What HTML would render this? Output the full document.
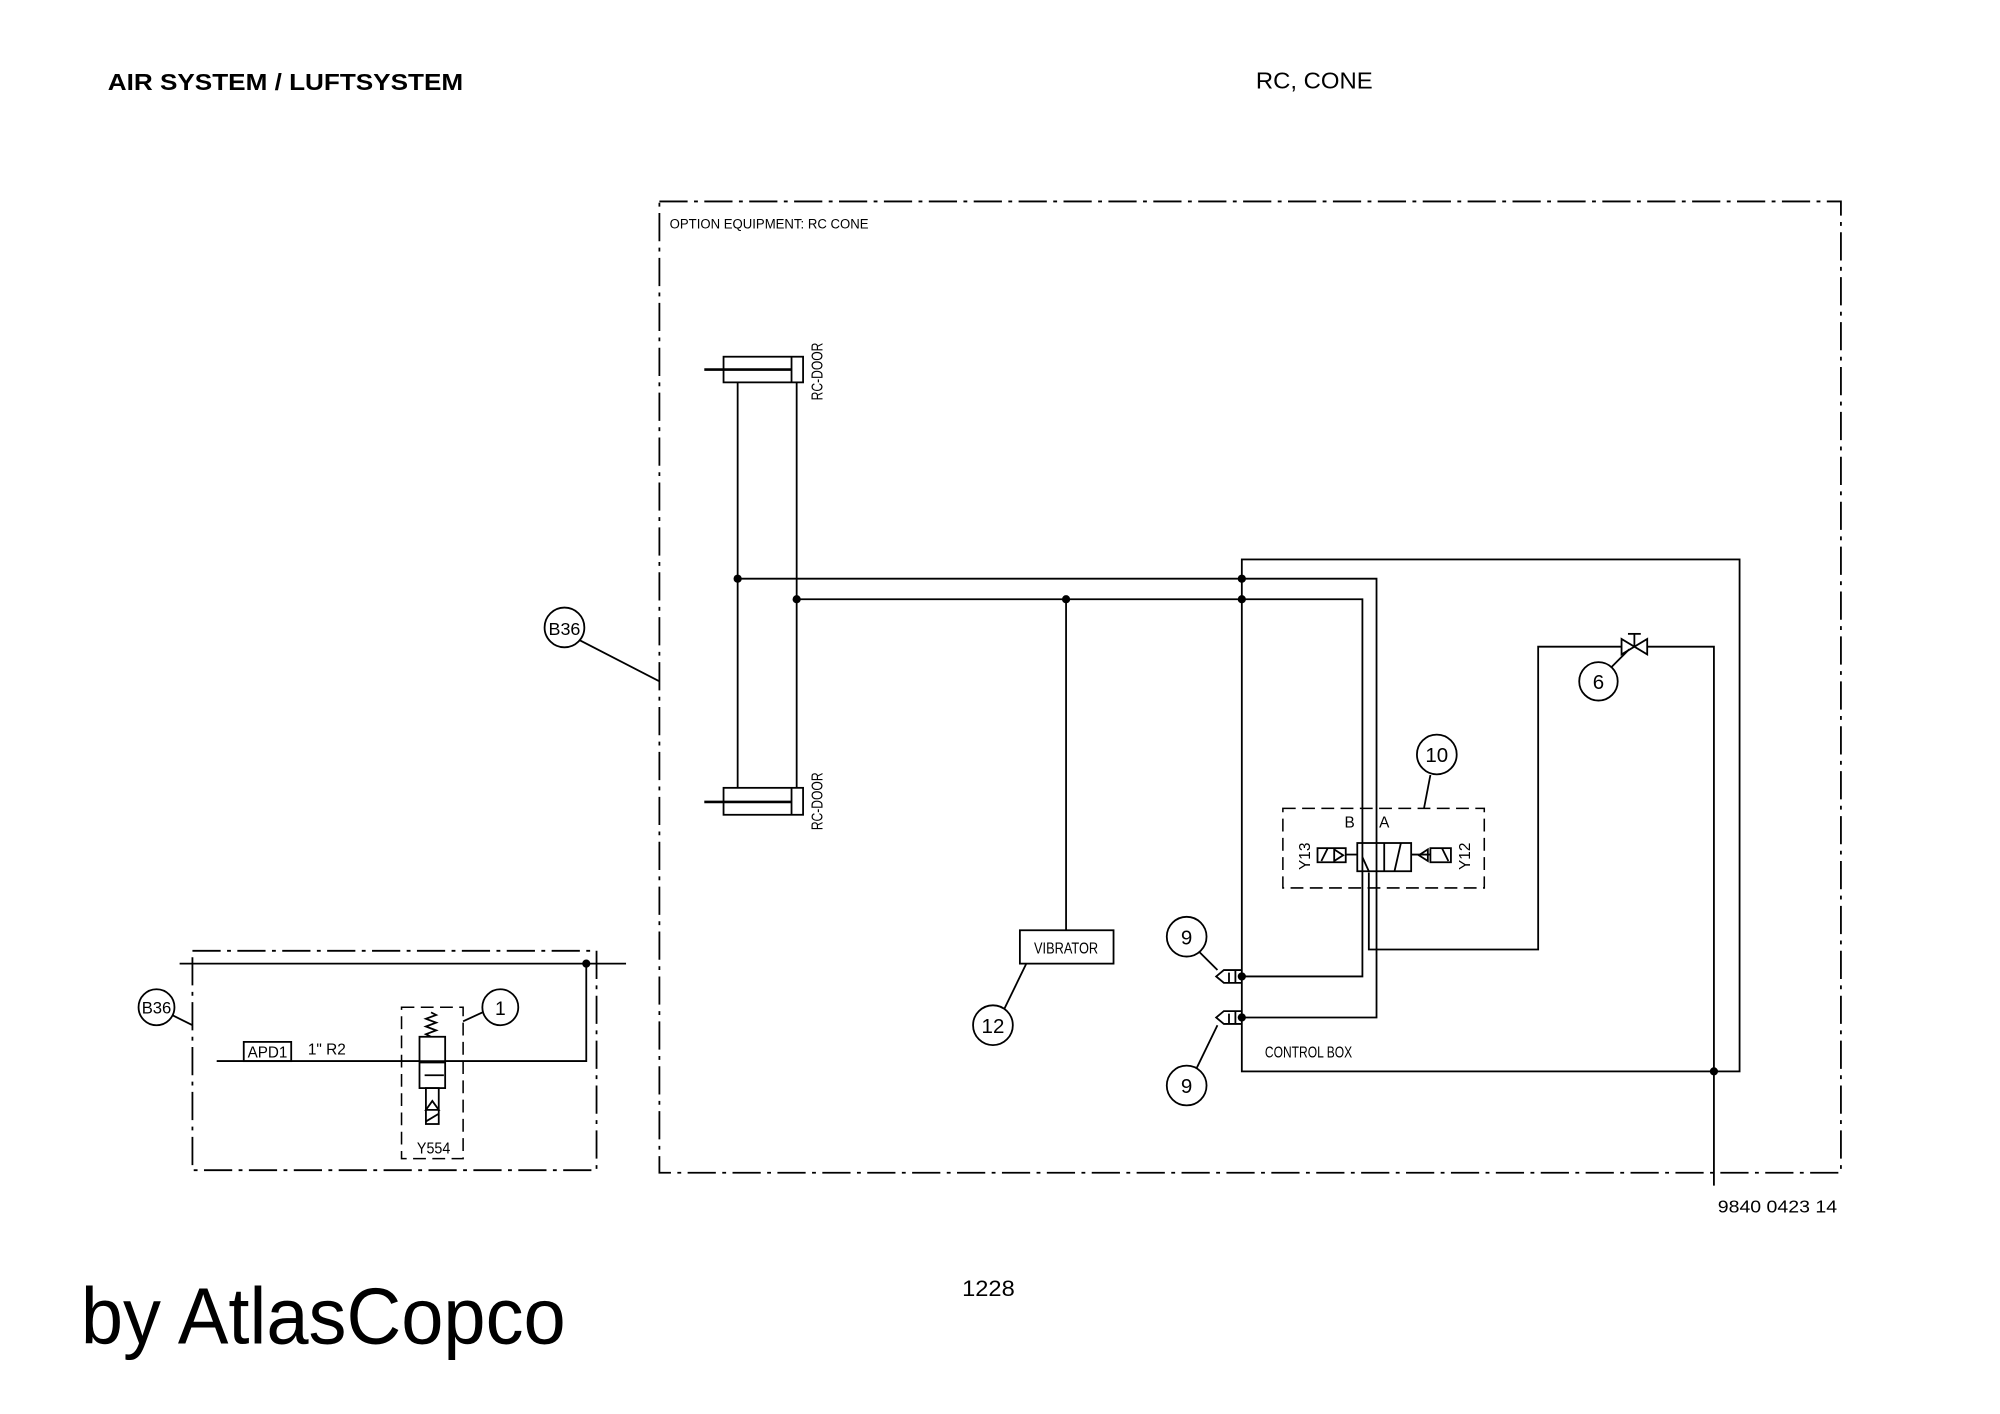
<!DOCTYPE html>
<html><head><meta charset="utf-8"><style>
html,body{margin:0;padding:0;background:#fff;}
svg{display:block;}
</style></head><body>
<svg width="2000" height="1414" viewBox="0 0 1559 1102" preserveAspectRatio="none" xmlns="http://www.w3.org/2000/svg">
<rect width="1559" height="1102" fill="#fff"/>
<g font-family="Liberation Sans, Arial, sans-serif" fill="#000">
<text x="84" y="70" font-size="18" font-weight="bold" textLength="277" lengthAdjust="spacingAndGlyphs">AIR SYSTEM / LUFTSYSTEM</text>
<text x="979" y="69" font-size="18" textLength="91" lengthAdjust="spacingAndGlyphs">RC, CONE</text>
<text x="750" y="1010" font-size="17" textLength="41" lengthAdjust="spacingAndGlyphs">1228</text>
<text x="63" y="1047" font-size="62" textLength="378" lengthAdjust="spacingAndGlyphs">by AtlasCopco</text>
<text x="1339" y="945" font-size="14" textLength="93" lengthAdjust="spacingAndGlyphs">9840 0423 14</text>
</g>
<g fill="none" stroke="#000" stroke-width="1.4">
<!-- frames -->
<rect x="514" y="157" width="921" height="757" stroke-dasharray="22 5 3 5"/>
<rect x="150" y="741" width="315" height="171" stroke-dasharray="22 5 3 5"/>
<!-- cylinders -->
<rect x="564" y="278" width="62" height="20"/><line x1="617" y1="278" x2="617" y2="298"/><line x1="549" y1="288" x2="617" y2="288" stroke-width="2"/>
<rect x="564" y="614" width="62" height="21"/><line x1="617" y1="614" x2="617" y2="635"/><line x1="549" y1="625" x2="617" y2="625" stroke-width="2"/>
<line x1="575" y1="298" x2="575" y2="614"/><line x1="621" y1="298" x2="621" y2="614"/>
<!-- main lines -->
<polyline points="575,451 1073,451 1073,793 968,793"/>
<polyline points="621,467 1062,467 1062,761 968,761"/>
<line x1="831" y1="467" x2="831" y2="725"/>
<rect x="968" y="436" width="388" height="399"/>
<polyline points="1067,680 1067,740 1199,740 1199,504 1264,504"/>
<polyline points="1284,504 1336,504 1336,924"/>
<!-- valve 6 -->
<path d="M1264,498 L1264,510 L1284,498 L1284,510 Z"/><line x1="1274" y1="504" x2="1274" y2="494"/><line x1="1269" y1="494" x2="1279" y2="494"/>
<circle cx="1246" cy="531" r="15"/><line x1="1256" y1="520" x2="1270" y2="506"/>
<!-- vibrator -->
<rect x="795" y="725" width="73" height="26"/>
<circle cx="774" cy="799" r="15.5"/><line x1="783" y1="786" x2="800" y2="751"/>
<!-- check valves -->
<path d="M968,756 L954,756 L948,761 L954,766 L968,766"/><line x1="958" y1="758" x2="958" y2="766"/><line x1="963" y1="756" x2="963" y2="766"/>
<path d="M968,788 L954,788 L948,793 L954,798 L968,798"/><line x1="958" y1="790" x2="958" y2="798"/><line x1="963" y1="788" x2="963" y2="798"/>
<circle cx="925" cy="730" r="15.5"/><line x1="935" y1="742" x2="949" y2="756"/>
<circle cx="925" cy="846" r="15.5"/><line x1="933" y1="832" x2="949" y2="799"/>
<!-- valve 10 -->
<rect x="1000" y="630" width="157" height="62" stroke-dasharray="10 5" stroke-width="1.2"/>
<rect x="1058" y="657" width="42" height="22" fill="#fff"/><line x1="1079" y1="657" x2="1079" y2="679"/>
<line x1="1062" y1="657" x2="1062" y2="679"/><line x1="1073" y1="657" x2="1073" y2="679"/>
<line x1="1062" y1="668" x2="1067" y2="679"/><line x1="1092" y1="657" x2="1087" y2="679"/>
<rect x="1027" y="661" width="22" height="11"/><line x1="1049" y1="666" x2="1058" y2="666"/><path d="M1040,662 L1047,666.5 L1040,671 Z"/><line x1="1030" y1="671" x2="1035" y2="661"/>
<rect x="1115" y="661" width="16" height="11"/><line x1="1100" y1="666" x2="1115" y2="666"/><path d="M1113,662 L1106,666.5 L1113,671 Z"/><line x1="1124" y1="661" x2="1129" y2="671"/>
<circle cx="1120" cy="588" r="15.5"/><line x1="1115" y1="604" x2="1110" y2="630"/>
<!-- B36 -->
<circle cx="440" cy="489" r="15.5"/><line x1="452" y1="499" x2="514" y2="531"/>
<circle cx="122" cy="785" r="14"/><line x1="134" y1="791" x2="150" y2="799"/>
<!-- small box -->
<line x1="140" y1="751" x2="488" y2="751"/>
<polyline points="457,751 457,827 169,827"/>
<rect x="190" y="812" width="37" height="15"/>
<rect x="313" y="785" width="48" height="118" stroke-dasharray="10 5" stroke-width="1.2"/>
<line x1="361" y1="796" x2="376" y2="789"/>
<circle cx="390" cy="785" r="14"/>
<polyline points="336,808 332,806 340,803 332,800 340,797 332,794 340,791 336,789"/>
<rect x="327" y="808" width="20" height="40" fill="#fff"/><line x1="327" y1="828" x2="347" y2="828"/>
<line x1="331" y1="838" x2="346" y2="838"/>
<rect x="332" y="848" width="10" height="28"/><path d="M332,865 L337,858 L342,865 Z"/><line x1="332" y1="874" x2="342" y2="868"/>
<line x1="169" y1="827" x2="457" y2="827"/>
</g>
<g fill="#000">
<circle cx="575" cy="451" r="3.2"/><circle cx="621" cy="467" r="3.2"/><circle cx="831" cy="467" r="3.2"/>
<circle cx="968" cy="451" r="3.2"/><circle cx="968" cy="467" r="3.2"/>
<circle cx="968" cy="761" r="3.2"/><circle cx="968" cy="793" r="3.2"/>
<circle cx="1336" cy="835" r="3.2"/><circle cx="457" cy="751" r="3.2"/>
</g>
<g font-family="Liberation Sans Narrow, Liberation Sans, sans-serif" fill="#000" font-size="12">
<text x="522" y="178" font-size="11" textLength="155" lengthAdjust="spacingAndGlyphs">OPTION EQUIPMENT: RC CONE</text>
<text transform="translate(641,312) rotate(-90)" textLength="45" lengthAdjust="spacingAndGlyphs">RC-DOOR</text>
<text transform="translate(641,647) rotate(-90)" textLength="45" lengthAdjust="spacingAndGlyphs">RC-DOOR</text>
<text x="806" y="743" textLength="50" lengthAdjust="spacingAndGlyphs">VIBRATOR</text>
<text x="986" y="824" textLength="68" lengthAdjust="spacingAndGlyphs">CONTROL BOX</text>
<text x="1048" y="645">B</text><text x="1075" y="645">A</text>
<text transform="translate(1021,678) rotate(-90)">Y13</text>
<text transform="translate(1146,678) rotate(-90)">Y12</text>
<text x="193" y="824" textLength="31" lengthAdjust="spacingAndGlyphs">APD1</text>
<text x="240" y="822">1" R2</text>
<text x="325" y="899" textLength="26" lengthAdjust="spacingAndGlyphs">Y554</text>
<g font-size="16" text-anchor="middle">
<text x="1246" y="537">6</text><text x="774" y="805">12</text><text x="925" y="736">9</text><text x="925" y="852">9</text>
<text x="1120" y="594">10</text><text x="390" y="791" font-size="15">1</text>
<text x="440" y="495" font-size="14">B36</text><text x="122" y="790" font-size="13">B36</text>
</g>
</g>
</svg>
</body></html>
